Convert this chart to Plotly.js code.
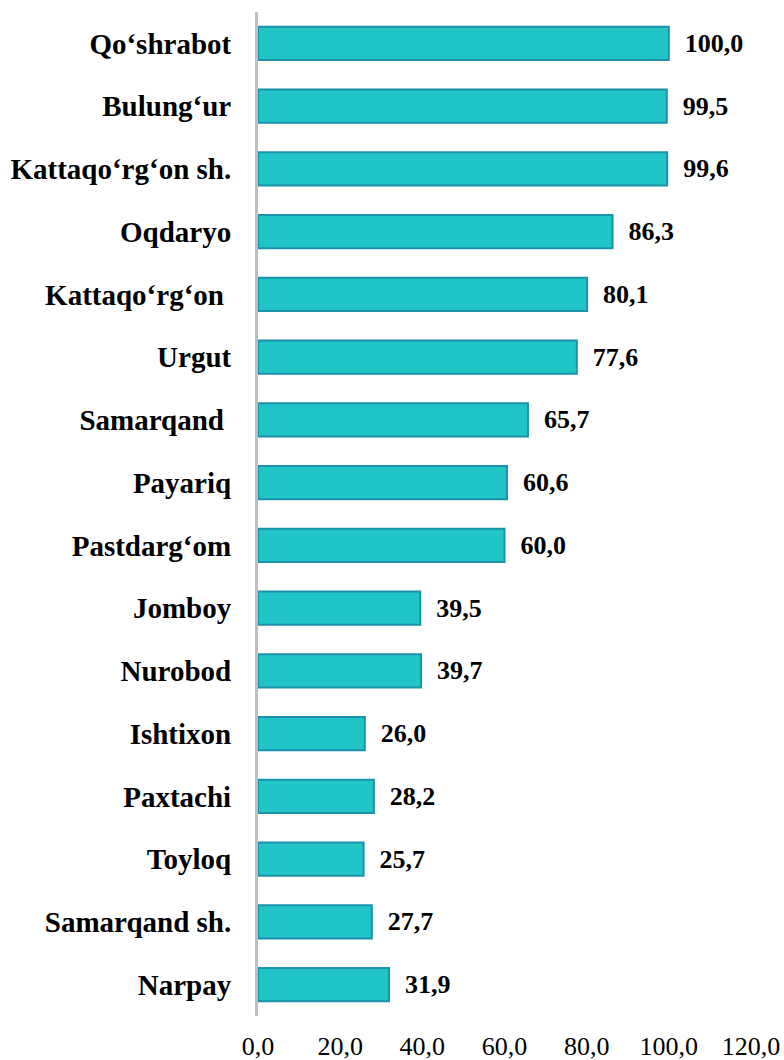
<!DOCTYPE html>
<html>
<head>
<meta charset="utf-8">
<script src="https://cdn.plot.ly/plotly-3.0.1.min.js"></script>
<style>
html,body{margin:0;padding:0;background:#fff;}
#chart{width:784px;height:1060px;}
#chart svg text{font-family:'Liberation Serif', serif !important;}
</style>
</head>
<body>
<div id="chart"></div>
<script>
const categories = ["Qo‘shrabot","Bulung‘ur","Kattaqo‘rg‘on sh.","Oqdaryo","Kattaqo‘rg‘on ","Urgut","Samarqand ","Payariq","Pastdarg‘om","Jomboy","Nurobod","Ishtixon","Paxtachi","Toyloq","Samarqand sh.","Narpay"];
const values = [100.0,99.5,99.6,86.3,80.1,77.6,65.7,60.6,60.0,39.5,39.7,26.0,28.2,25.7,27.7,31.9];
const xTicks = [0,20,40,60,80,100,120];

const trace = {
  type: 'bar',
  orientation: 'h',
  y: categories,
  x: values,
  marker: {color: '#21c5c7', line: {color: '#1b91aa', width: 2}},
  texttemplate: '\u00a0\u00a0%{x:.1f}',
  textposition: 'outside',
  cliponaxis: false,
  textfont: {family: 'Liberation Serif', size: 26, color: '#000', weight: 'bold'},
  hoverinfo: 'skip'
};

const layout = {
  width: 784, height: 1060,
  margin: {l: 258, r: 33, t: 12, b: 44},
  paper_bgcolor: '#fff', plot_bgcolor: '#fff',
  separators: ', ',
  bargap: 0.47,
  showlegend: false,
  font: {family: 'Liberation Serif'},
  xaxis: {
    range: [0, 120], tickvals: xTicks, tickformat: '.1f',
    showgrid: false, zeroline: false, showline: false, ticks: '',
    tickfont: {family: 'Liberation Serif', size: 26, color: '#000'},
    ticklabelstandoff: 12
  },
  yaxis: {
    autorange: 'reversed',
    showgrid: false, zeroline: false, showline: true, linecolor: '#bfbfbf', linewidth: 3,
    ticks: '', ticklabelstandoff: 18,
    tickfont: {family: 'Liberation Serif', size: 29, color: '#000', weight: 'bold'}
  }
};

Plotly.newPlot('chart', [trace], layout, {displayModeBar: false});
</script>
</body>
</html>
